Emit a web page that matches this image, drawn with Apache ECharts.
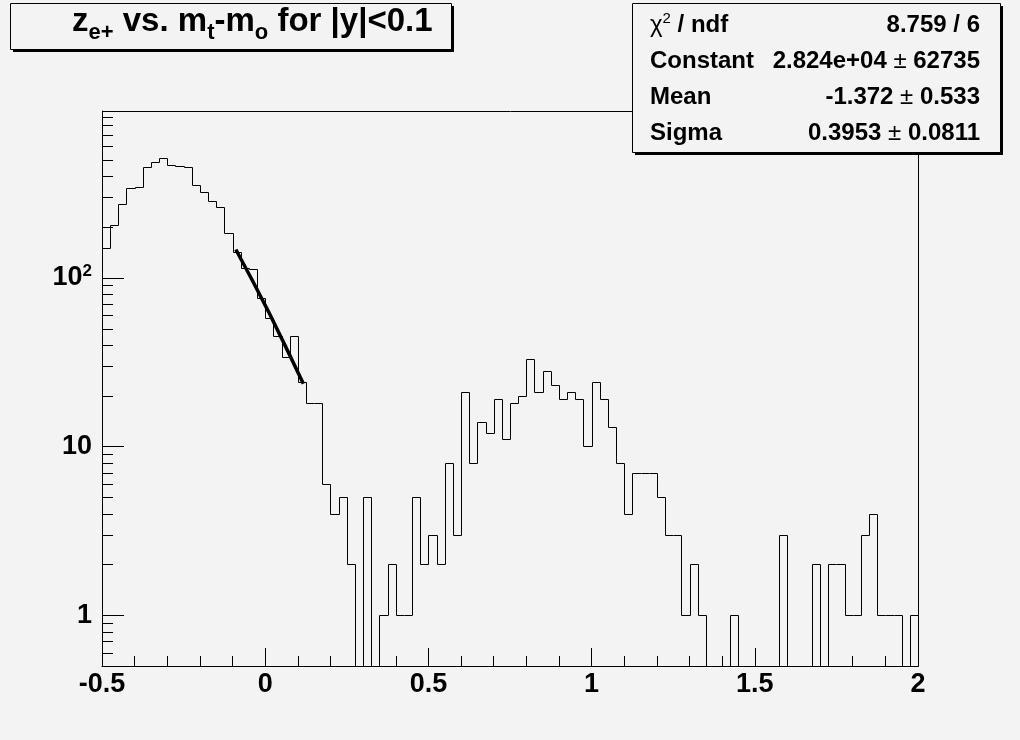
<!DOCTYPE html>
<html><head><meta charset="utf-8">
<script src="https://cdn.jsdelivr.net/npm/echarts@6/dist/echarts.min.js"></script>
<style>html,body{margin:0;padding:0;background:#f3f3f3}#c{width:1020px;height:740px}</style>
</head><body><div id="c"></div>
<script>
// ---- data ----
const xMin = -0.5, xMax = 2.0, binWidth = 0.025;
const yMin = 0.5, yMax = 973;
const binCounts = [
  150, 204, 273, 338, 345, 454, 486, 515, 464, 462,
  456, 353, 321, 286, 262, 184, 143, 114, 112, 76,
  58, 45, 34, 45, 24, 18, 18, 6, 4, 5,
  2, 0, 5, 0, 1, 2, 1, 1, 5, 2,
  3, 2, 8, 3, 21, 8, 14, 12, 19, 11,
  18, 20, 33, 21, 28, 23, 19, 21, 19, 10,
  24, 19, 13, 8, 4, 7, 7, 7, 5, 3,
  3, 1, 2, 1, 0, 0, 0, 1, 0, 0,
  0, 0, 0, 3, 0, 0, 0, 2, 0, 2,
  2, 1, 1, 3, 4, 1, 1, 1, 0, 1
];
// gaussian fit curve
const fitCurve = [[-0.09, 147], [-0.04, 97], [0.01, 63], [0.06, 40], [0.117, 23.5]];
const xTickLabels = ['-0.5', '0', '0.5', '1', '1.5', '2'];
const yMajorTicks = [1, 10, 100];
const yMinorTicks = [0.6, 0.7, 0.8, 0.9, 2, 3, 4, 5, 6, 7, 8, 9, 20, 30, 40, 50, 60, 70, 80, 90, 200, 300, 400, 500, 600, 700, 800, 900];
const statNames = ['{chi|χ}{sup|2}{b| / ndf}', 'Constant', 'Mean', 'Sigma'];
const statValues = ['8.759 / 6', '2.824e+04{pm| ± }62735', '-1.372{pm| ± }0.533', '0.3953{pm| ± }0.0811'];

// ---- chart ----
const FONT = "'Liberation Sans', Arial, Helvetica, sans-serif";
const BG = '#f3f3f3';
const chart = echarts.init(document.getElementById('c'), null, {renderer: 'canvas'});

const histData = binCounts.map((c, i) => [xMin + i * binWidth, c, i === 0 ? 0 : binCounts[i - 1], i === binCounts.length - 1 ? 1 : 0]);
const tickData = yMajorTicks.map(v => [xMin, v, 22]).concat(yMinorTicks.map(v => [xMin, v, 11]));

const px = v => Math.round(v) + 0.5;

const statsGraphics = [];
const rowY = [25, 61, 97, 133];
statNames.forEach((n, k) => {
  statsGraphics.push({
    type: 'text', x: 650, y: rowY[k], z: 20,
    style: {text: n, font: 'bold 24px ' + FONT, fill: '#000', verticalAlign: 'middle', align: 'left',
      rich: {b: {font: 'bold 24px ' + FONT}, chi: {font: '24px ' + FONT}, sup: {font: '15px ' + FONT, verticalAlign: 'top', lineHeight: 28}}}
  });
  statsGraphics.push({
    type: 'text', x: 980, y: rowY[k], z: 20,
    style: {text: statValues[k], font: 'bold 24px ' + FONT, fill: '#000', verticalAlign: 'middle', align: 'right',
      rich: {pm: {font: '24px ' + FONT}}}
  });
});

chart.setOption({
  backgroundColor: BG,
  animation: false,
  grid: {left: 102, top: 111, right: 102, bottom: 74, show: false},
  xAxis: {
    type: 'value', min: xMin, max: xMax, interval: 0.5,
    axisLine: {show: true, onZero: false, lineStyle: {color: '#000', width: 1}},
    axisTick: {show: true, inside: true, length: 18, lineStyle: {color: '#000'}},
    minorTick: {show: true, splitNumber: 5, length: 10, lineStyle: {color: '#000'}},
    splitLine: {show: false},
    axisLabel: {color: '#000', fontSize: 27, fontWeight: 'bold', fontFamily: FONT, margin: 5,
      formatter: (v) => { const i = Math.round((v - xMin) / 0.5); return xTickLabels[i] !== undefined ? xTickLabels[i] : ''; }}
  },
  yAxis: {
    type: 'log', logBase: 10, min: yMin, max: yMax,
    axisLine: {show: true, onZero: false, lineStyle: {color: '#000', width: 1}},
    axisTick: {show: false},
    splitLine: {show: false},
    axisLabel: {color: '#000', margin: 10, showMinLabel: false, showMaxLabel: false,
      formatter: (v) => {
        if (Math.abs(v - 100) < 1e-6) return '{a|10}{s|2}';
        if (Math.abs(v - 10) < 1e-6) return '{a|10}';
        if (Math.abs(v - 1) < 1e-6) return '{a|1}';
        return '';
      },
      rich: {
        a: {fontSize: 27, fontWeight: 'bold', fontFamily: FONT, color: '#000', lineHeight: 30},
        s: {fontSize: 17, fontWeight: 'bold', fontFamily: FONT, color: '#000', verticalAlign: 'top', lineHeight: 17}
      }
    }
  },
  series: [
    {
      type: 'custom', name: 'hist', data: histData, clip: true, z: 5,
      encode: {x: 0, y: 1},
      renderItem: (params, api) => {
        const x0 = api.value(0), c = api.value(1), p = api.value(2), last = api.value(3);
        const x1 = x0 + binWidth;
        const yc = Math.max(c, yMin), yp = Math.max(p, yMin);
        const a = api.coord([x0, yp]), b = api.coord([x0, yc]), d = api.coord([x1, yc]);
        const pts = [[px(a[0]), px(a[1])], [px(b[0]), px(b[1])], [px(d[0]), px(d[1])]];
        if (last) { const e = api.coord([x1, yMin]); pts.push([px(e[0]), px(e[1])]); }
        return {type: 'polyline', shape: {points: pts}, style: {stroke: '#000', lineWidth: 1, fill: null}};
      }
    },
    {
      type: 'line', name: 'fit', data: fitCurve, symbol: 'none', z: 6,
      lineStyle: {color: '#000', width: 3.5}
    },
    {
      type: 'custom', name: 'yticks', data: tickData, clip: false, z: 7,
      encode: {x: 0, y: 1},
      renderItem: (params, api) => {
        const p = api.coord([api.value(0), api.value(1)]);
        const len = api.value(2);
        const y = px(p[1]);
        return {type: 'line', shape: {x1: Math.round(p[0]), y1: y, x2: Math.round(p[0]) + len, y2: y}, style: {stroke: '#000', lineWidth: 1}};
      }
    }
  ],
  graphic: [
    {type: 'rect', shape: {x: 102.5, y: 111.5, width: 816, height: 555}, style: {fill: null, stroke: '#000', lineWidth: 1}, z: 1},
    {type: 'rect', shape: {x: 13, y: 6, width: 441, height: 46}, style: {fill: '#000'}, z: 10},
    {type: 'rect', shape: {x: 10.5, y: 3.5, width: 441, height: 46}, style: {fill: BG, stroke: '#000', lineWidth: 1}, z: 11},
    {type: 'text', x: 72, y: 0, z: 12,
      style: {text: '{m|z}{s|e+}{m| vs. m}{s|t}{m|-m}{s|o}{m| for |y|<0.1}', fill: '#000', verticalAlign: 'top', align: 'left',
        rich: {m: {font: 'bold 33px ' + FONT, lineHeight: 44}, s: {font: 'bold 22px ' + FONT, lineHeight: 22, verticalAlign: 'bottom'}}}},
    {type: 'rect', shape: {x: 635, y: 6, width: 368, height: 149}, style: {fill: '#000'}, z: 18},
    {type: 'rect', shape: {x: 632.5, y: 3.5, width: 368, height: 149}, style: {fill: BG, stroke: '#000', lineWidth: 1}, z: 19}
  ].concat(statsGraphics)
});
</script></body></html>
